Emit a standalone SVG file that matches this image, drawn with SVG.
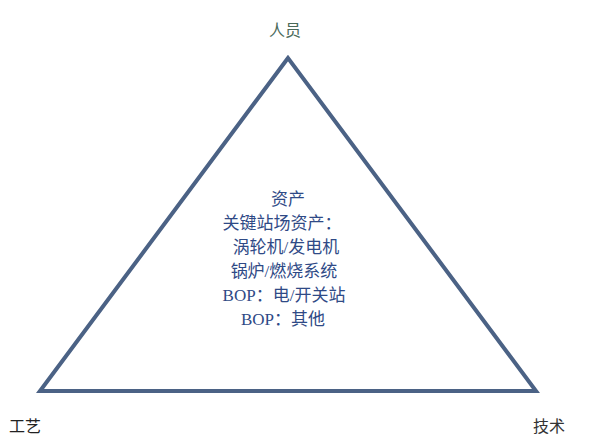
<svg xmlns="http://www.w3.org/2000/svg" width="594" height="444" viewBox="0 0 594 444">
<style>
.c{font-family:"Liberation Serif","Noto Sans CJK SC",serif;font-size:17px;fill:#2f4a86;text-anchor:middle}
.l{font-family:"Liberation Sans","Noto Sans CJK SC",sans-serif;font-size:16px}
</style>
<rect width="594" height="444" fill="#ffffff"/>
<g id="triangle">
<polygon points="288,58 40,391 536,391" fill="none" stroke="#4b6285" stroke-width="4" stroke-linejoin="miter"/>
<g id="center-text">
<text class="c" x="288" y="205">资产</text>
<text class="c" x="282" y="229">关键站场资产：</text>
<text class="c" x="286" y="253">涡轮机/发电机</text>
<text class="c" x="284" y="277">锅炉/燃烧系统</text>
<text class="c" x="284" y="301">BOP：电/开关站</text>
<text class="c" x="283" y="325">BOP：其他</text>
</g>
</g>
<g id="people"><text class="l" x="285" y="36" text-anchor="middle" fill="#4a6a5a">人员</text></g>
<g id="craft"><text class="l" x="9" y="432" fill="#222222">工艺</text></g>
<g id="tech"><text class="l" x="533" y="432" fill="#333333">技术</text></g>
<g id="connectors"></g>
</svg>
